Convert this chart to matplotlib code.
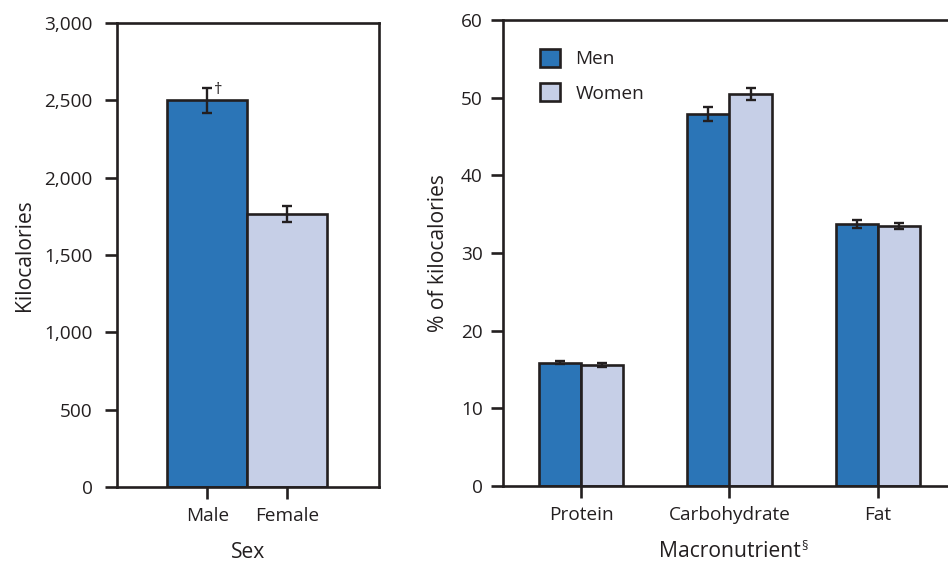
import matplotlib
matplotlib.use("Agg")
import matplotlib.pyplot as plt
from matplotlib.patches import Patch
import numpy as np

plt.rcParams['font.family'] = ['Open Sans', 'DejaVu Sans']

# Data
sex_labels = ["Male", "Female"]
kcal = [2500, 1765]
kcal_err = [80, 50]

macros = ["Protein", "Carbohydrate", "Fat"]
men_pct = [15.9, 47.9, 33.7]
men_err = [0.2, 0.85, 0.5]
women_pct = [15.6, 50.5, 33.5]
women_err = [0.3, 0.75, 0.4]

left_ticks = [0, 500, 1000, 1500, 2000, 2500, 3000]
right_ticks = [0, 10, 20, 30, 40, 50, 60]

DARK = "#2B75B7"
LIGHT = "#C6CFE7"
EDGE = "#231F20"
TXT = "#231F20"
FS = 13.7
LFS = 15.2
LW = 1.9

fig = plt.figure(figsize=(9.48, 5.64), dpi=100)
W, H = 948, 564

def axrect(x0, x1, y0, y1):
    return [x0 / W, 1 - y1 / H, (x1 - x0) / W, (y1 - y0) / H]

ax1 = fig.add_axes(axrect(117, 379, 23, 487))
ax2 = fig.add_axes(axrect(503, 956, 20, 486))

for ax in (ax1, ax2):
    for s in ax.spines.values():
        s.set_linewidth(LW)
        s.set_color(EDGE)
    ax.tick_params(axis='both', direction='out', length=8.5, width=LW, color=EDGE,
                   labelsize=FS, labelcolor=TXT)

# Left panel
x1 = np.arange(len(sex_labels))
ax1.bar(x1, kcal, width=1.0, color=[DARK, LIGHT], edgecolor=EDGE, linewidth=LW, zorder=2)
ax1.errorbar(x1, kcal, yerr=kcal_err, fmt='none', ecolor=EDGE, elinewidth=1.7,
             capsize=3.5, capthick=1.7, zorder=3)
ax1.set_xlim(-1.13, 2.15)
ax1.set_ylim(0, 3000)
ax1.set_yticks(left_ticks)
ax1.set_yticklabels([f"{v:,}" for v in left_ticks])
ax1.set_xticks(x1)
ax1.set_xticklabels(sex_labels)
ax1.tick_params(axis='y', pad=9)
ax1.tick_params(axis='x', pad=6)
ax1.set_ylabel("Kilocalories", fontsize=LFS, color=TXT, labelpad=7)
ax1.set_xlabel("Sex", fontsize=LFS, color=TXT, labelpad=12)
ax1.annotate("\u2020", xy=(x1[0], kcal[0] + kcal_err[0]), xytext=(8, -1.5),
             textcoords='offset points', fontsize=12, color=TXT, ha='center', va='center')

# Right panel
x2 = np.arange(len(macros))
bw = 0.285
ax2.bar(x2 - bw / 2, men_pct, width=bw, color=DARK, edgecolor=EDGE, linewidth=LW, zorder=2, label="Men")
ax2.bar(x2 + bw / 2, women_pct, width=bw, color=LIGHT, edgecolor=EDGE, linewidth=LW, zorder=2, label="Women")
ax2.errorbar(x2 - bw / 2, men_pct, yerr=men_err, fmt='none', ecolor=EDGE, elinewidth=1.7,
             capsize=3.5, capthick=1.7, zorder=3)
ax2.errorbar(x2 + bw / 2, women_pct, yerr=women_err, fmt='none', ecolor=EDGE, elinewidth=1.7,
             capsize=3.5, capthick=1.7, zorder=3)
ax2.set_xlim(-0.525, 2.525)
ax2.set_ylim(0, 60)
ax2.set_yticks(right_ticks)
ax2.set_xticks(x2)
ax2.set_xticklabels(macros)
ax2.tick_params(axis='y', pad=6)
ax2.tick_params(axis='x', pad=6)
ax2.set_ylabel("% of kilocalories", fontsize=LFS, color=TXT, labelpad=8.5)
xl = ax2.set_xlabel("Macronutrient", fontsize=LFS, color=TXT, labelpad=12)

handles = [Patch(facecolor=DARK, edgecolor=EDGE, linewidth=LW, label="Men"),
           Patch(facecolor=LIGHT, edgecolor=EDGE, linewidth=LW, label="Women")]
leg = ax2.legend(handles=handles, loc='upper left', bbox_to_anchor=(0.082, 0.938),
                 frameon=False, fontsize=FS, handlelength=1.05, handleheight=1.05,
                 handletextpad=0.8, labelspacing=0.8, borderpad=0, borderaxespad=0)
for t in leg.get_texts():
    t.set_color(TXT)

fig.canvas.draw()
bb = xl.get_window_extent()
fig.text((bb.x1 + 1) / W, (bb.y1 + 1) / H, "\u00a7", fontsize=9, color=TXT, ha='left', va='top')

fig.savefig("out.png", dpi=100)
